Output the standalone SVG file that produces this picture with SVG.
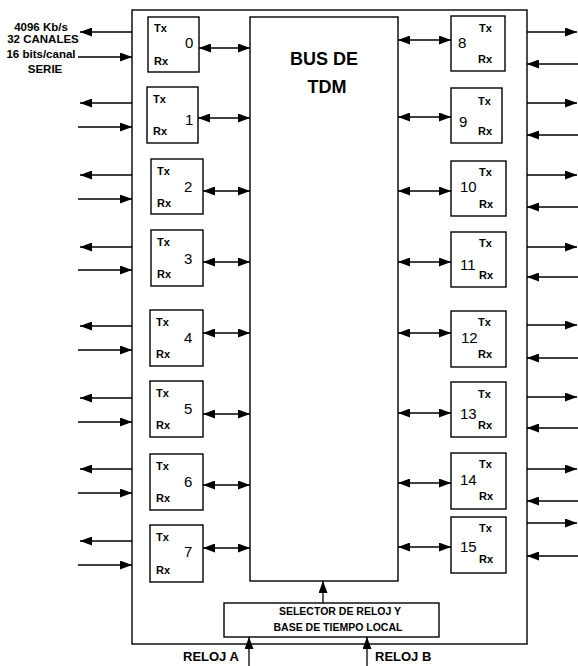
<svg xmlns="http://www.w3.org/2000/svg" width="578" height="666" viewBox="0 0 578 666">
<style>
.box{fill:#fff;stroke:#000;stroke-width:1.4}
.ln{fill:none;stroke:#000;stroke-width:1.3}
.t{font-family:"Liberation Sans",Arial,sans-serif;font-weight:bold;fill:#000}
.s{font-size:11px}
.lab{font-size:11.5px}
.n{font-size:15px;font-weight:normal}
.big{font-size:18px}
.sel{font-size:10.5px}
</style>
<defs>
<marker id="ah" viewBox="0 0 12 9" refX="12" refY="4.5" markerWidth="12" markerHeight="9" orient="auto-start-reverse" markerUnits="userSpaceOnUse">
<path d="M0,0 L12,4.5 L0,9 z" fill="#000"/>
</marker>
</defs>
<rect width="578" height="666" fill="#fff"/>
<g id="frame"><rect class="box" x="132" y="10" width="395" height="634"/></g>
<g id="bus"><rect class="box" x="250" y="17" width="148" height="564"/>
<text class="t big" x="324" y="65" text-anchor="middle">BUS DE</text>
<text class="t big" x="327" y="93" text-anchor="middle">TDM</text></g>
<g id="selector"><rect class="box" x="224" y="603" width="215" height="34"/>
<text class="t sel" x="340" y="615" text-anchor="middle">SELECTOR DE RELOJ Y</text>
<text class="t sel" x="338" y="631" text-anchor="middle">BASE DE TIEMPO LOCAL</text></g>
<g id="label-serie" class="t lab" text-anchor="middle">
<text x="41" y="31">4096 Kb/s</text>
<text x="43" y="43">32 CANALES</text>
<text x="41" y="58">16 bits/canal</text>
<text x="45" y="73">SERIE</text>
</g>
<g id="n0"><rect class="box" x="148" y="17" width="51" height="55"/><text class="t s" x="154" y="32">Tx</text><text class="t s" x="154" y="65">Rx</text><text class="t n" x="185" y="48">0</text></g>
<g id="n1"><rect class="box" x="147" y="87" width="51" height="56"/><text class="t s" x="153" y="103">Tx</text><text class="t s" x="153" y="135">Rx</text><text class="t n" x="185" y="125">1</text></g>
<g id="n2"><rect class="box" x="151" y="159" width="52" height="55"/><text class="t s" x="157" y="175">Tx</text><text class="t s" x="157" y="207">Rx</text><text class="t n" x="184" y="192">2</text></g>
<g id="n3"><rect class="box" x="151" y="230" width="52" height="56"/><text class="t s" x="157" y="246">Tx</text><text class="t s" x="157" y="278">Rx</text><text class="t n" x="184" y="264">3</text></g>
<g id="n4"><rect class="box" x="150" y="310" width="53" height="56"/><text class="t s" x="156" y="326">Tx</text><text class="t s" x="156" y="358">Rx</text><text class="t n" x="184" y="343">4</text></g>
<g id="n5"><rect class="box" x="150" y="381" width="53" height="56"/><text class="t s" x="156" y="397">Tx</text><text class="t s" x="156" y="429">Rx</text><text class="t n" x="184" y="414">5</text></g>
<g id="n6"><rect class="box" x="150" y="454" width="53" height="56"/><text class="t s" x="156" y="470">Tx</text><text class="t s" x="156" y="502">Rx</text><text class="t n" x="184" y="487">6</text></g>
<g id="n7"><rect class="box" x="150" y="525" width="53" height="57"/><text class="t s" x="156" y="541">Tx</text><text class="t s" x="156" y="574">Rx</text><text class="t n" x="184" y="557">7</text></g>
<g id="n8"><rect class="box" x="451" y="16" width="54" height="55"/><text class="t s" x="479" y="32">Tx</text><text class="t s" x="478" y="63">Rx</text><text class="t n" x="458" y="48">8</text></g>
<g id="n9"><rect class="box" x="451" y="88" width="51" height="55"/><text class="t s" x="478" y="105">Tx</text><text class="t s" x="478" y="135">Rx</text><text class="t n" x="459" y="127">9</text></g>
<g id="n10"><rect class="box" x="451" y="161" width="55" height="55"/><text class="t s" x="479" y="176">Tx</text><text class="t s" x="479" y="208">Rx</text><text class="t n" x="460" y="192">10</text></g>
<g id="n11"><rect class="box" x="451" y="232" width="55" height="55"/><text class="t s" x="479" y="247">Tx</text><text class="t s" x="479" y="279">Rx</text><text class="t n" x="460" y="270">11</text></g>
<g id="n12"><rect class="box" x="451" y="311" width="55" height="56"/><text class="t s" x="478" y="326">Tx</text><text class="t s" x="478" y="358">Rx</text><text class="t n" x="461" y="343">12</text></g>
<g id="n13"><rect class="box" x="451" y="382" width="55" height="55"/><text class="t s" x="478" y="398">Tx</text><text class="t s" x="478" y="429">Rx</text><text class="t n" x="460" y="419">13</text></g>
<g id="n14"><rect class="box" x="451" y="453" width="55" height="56"/><text class="t s" x="479" y="468">Tx</text><text class="t s" x="479" y="500">Rx</text><text class="t n" x="460" y="485">14</text></g>
<g id="n15"><rect class="box" x="451" y="517" width="55" height="56"/><text class="t s" x="479" y="532">Tx</text><text class="t s" x="479" y="563">Rx</text><text class="t n" x="460" y="552">15</text></g>
<g id="clock-labels" class="t" style="font-size:13px">
<text x="183" y="661">RELOJ A</text>
<text x="375" y="661">RELOJ B</text>
</g>
<g id="connectors" class="ln">
<line x1="132" y1="32" x2="80" y2="32" marker-end="url(#ah)"/>
<line x1="78" y1="57" x2="132" y2="57" marker-end="url(#ah)"/>
<line x1="132" y1="103" x2="80" y2="103" marker-end="url(#ah)"/>
<line x1="78" y1="127" x2="132" y2="127" marker-end="url(#ah)"/>
<line x1="132" y1="175" x2="80" y2="175" marker-end="url(#ah)"/>
<line x1="78" y1="199" x2="132" y2="199" marker-end="url(#ah)"/>
<line x1="132" y1="247" x2="80" y2="247" marker-end="url(#ah)"/>
<line x1="78" y1="270" x2="132" y2="270" marker-end="url(#ah)"/>
<line x1="132" y1="326" x2="80" y2="326" marker-end="url(#ah)"/>
<line x1="78" y1="350" x2="132" y2="350" marker-end="url(#ah)"/>
<line x1="132" y1="398" x2="80" y2="398" marker-end="url(#ah)"/>
<line x1="78" y1="422" x2="132" y2="422" marker-end="url(#ah)"/>
<line x1="132" y1="469" x2="80" y2="469" marker-end="url(#ah)"/>
<line x1="78" y1="493" x2="132" y2="493" marker-end="url(#ah)"/>
<line x1="132" y1="541" x2="80" y2="541" marker-end="url(#ah)"/>
<line x1="78" y1="565" x2="132" y2="565" marker-end="url(#ah)"/>
<line x1="527" y1="32" x2="577" y2="32" marker-end="url(#ah)"/>
<line x1="578" y1="64" x2="527" y2="64" marker-end="url(#ah)"/>
<line x1="527" y1="103" x2="577" y2="103" marker-end="url(#ah)"/>
<line x1="578" y1="135" x2="527" y2="135" marker-end="url(#ah)"/>
<line x1="527" y1="175" x2="577" y2="175" marker-end="url(#ah)"/>
<line x1="578" y1="207" x2="527" y2="207" marker-end="url(#ah)"/>
<line x1="527" y1="247" x2="577" y2="247" marker-end="url(#ah)"/>
<line x1="578" y1="277" x2="527" y2="277" marker-end="url(#ah)"/>
<line x1="527" y1="325" x2="577" y2="325" marker-end="url(#ah)"/>
<line x1="578" y1="358" x2="527" y2="358" marker-end="url(#ah)"/>
<line x1="527" y1="397" x2="577" y2="397" marker-end="url(#ah)"/>
<line x1="578" y1="428" x2="527" y2="428" marker-end="url(#ah)"/>
<line x1="527" y1="469" x2="577" y2="469" marker-end="url(#ah)"/>
<line x1="578" y1="501" x2="527" y2="501" marker-end="url(#ah)"/>
<line x1="527" y1="523" x2="577" y2="523" marker-end="url(#ah)"/>
<line x1="578" y1="556" x2="527" y2="556" marker-end="url(#ah)"/>
<line x1="199" y1="48" x2="250" y2="48" marker-start="url(#ah)" marker-end="url(#ah)"/>
<line x1="198" y1="118" x2="250" y2="118" marker-start="url(#ah)" marker-end="url(#ah)"/>
<line x1="203" y1="191" x2="250" y2="191" marker-start="url(#ah)" marker-end="url(#ah)"/>
<line x1="203" y1="262" x2="250" y2="262" marker-start="url(#ah)" marker-end="url(#ah)"/>
<line x1="203" y1="333" x2="250" y2="333" marker-start="url(#ah)" marker-end="url(#ah)"/>
<line x1="203" y1="414" x2="250" y2="414" marker-start="url(#ah)" marker-end="url(#ah)"/>
<line x1="203" y1="485" x2="250" y2="485" marker-start="url(#ah)" marker-end="url(#ah)"/>
<line x1="203" y1="548" x2="250" y2="548" marker-start="url(#ah)" marker-end="url(#ah)"/>
<line x1="398" y1="40" x2="451" y2="40" marker-start="url(#ah)" marker-end="url(#ah)"/>
<line x1="398" y1="117" x2="451" y2="117" marker-start="url(#ah)" marker-end="url(#ah)"/>
<line x1="398" y1="191" x2="451" y2="191" marker-start="url(#ah)" marker-end="url(#ah)"/>
<line x1="398" y1="262" x2="451" y2="262" marker-start="url(#ah)" marker-end="url(#ah)"/>
<line x1="398" y1="333" x2="451" y2="333" marker-start="url(#ah)" marker-end="url(#ah)"/>
<line x1="398" y1="413" x2="451" y2="413" marker-start="url(#ah)" marker-end="url(#ah)"/>
<line x1="398" y1="483" x2="451" y2="483" marker-start="url(#ah)" marker-end="url(#ah)"/>
<line x1="398" y1="547" x2="451" y2="547" marker-start="url(#ah)" marker-end="url(#ah)"/>
<line x1="323" y1="603" x2="323" y2="581" marker-end="url(#ah)"/>
<line x1="249" y1="666" x2="249" y2="637" marker-end="url(#ah)"/>
<line x1="367" y1="666" x2="367" y2="637" marker-end="url(#ah)"/>
</g>
</svg>
